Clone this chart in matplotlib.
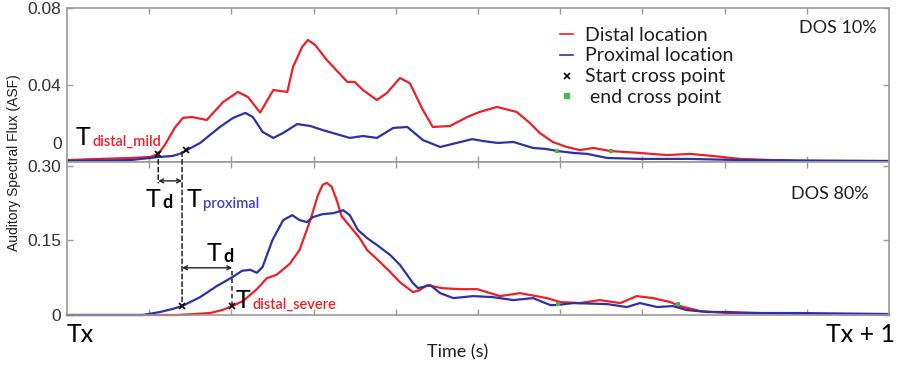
import matplotlib
matplotlib.use("Agg")
import matplotlib.pyplot as plt
from matplotlib.lines import Line2D
from matplotlib.patches import ConnectionPatch

# time axis runs from Tx (0) to Tx + 1 (1)
# DOS 10% panel
top_red_t = [0.000, 0.040, 0.077, 0.101, 0.111, 0.119, 0.131, 0.141, 0.152, 0.170,
             0.190, 0.208, 0.220, 0.235, 0.251, 0.268, 0.275, 0.286, 0.293, 0.302,
             0.316, 0.324, 0.341, 0.350, 0.360, 0.377, 0.389, 0.405, 0.417, 0.433,
             0.445, 0.466, 0.487, 0.502, 0.523, 0.547, 0.563, 0.575, 0.591, 0.608,
             0.624, 0.640, 0.661, 0.697, 0.730, 0.758, 0.786, 0.819, 0.859, 0.900,
             1.000]
top_red = [0.0010, 0.0016, 0.0021, 0.0026, 0.0042, 0.0088, 0.0177, 0.0229, 0.0234, 0.0218,
           0.0312, 0.0364, 0.0338, 0.0257, 0.0374, 0.0364, 0.0494, 0.0597, 0.0634, 0.0608,
           0.0530, 0.0494, 0.0416, 0.0416, 0.0374, 0.0322, 0.0358, 0.0436, 0.0410, 0.0270,
           0.0182, 0.0187, 0.0234, 0.0260, 0.0286, 0.0260, 0.0203, 0.0151, 0.0104, 0.0078,
           0.0062, 0.0073, 0.0057, 0.0047, 0.0036, 0.0042, 0.0031, 0.0016, 0.0010, 0.0005,
           0.0005]

top_blue_t = [0.000, 0.077, 0.101, 0.111, 0.128, 0.137, 0.145, 0.162, 0.186, 0.202,
              0.217, 0.226, 0.238, 0.251, 0.263, 0.280, 0.296, 0.311, 0.344, 0.360,
              0.377, 0.397, 0.414, 0.433, 0.454, 0.474, 0.493, 0.506, 0.524, 0.543,
              0.567, 0.582, 0.597, 0.616, 0.633, 0.657, 0.697, 0.758, 0.819, 1.000]
top_blue = [0.0005, 0.0010, 0.0021, 0.0026, 0.0031, 0.0042, 0.0060, 0.0099, 0.0182, 0.0229,
            0.0255, 0.0234, 0.0156, 0.0125, 0.0151, 0.0197, 0.0187, 0.0166, 0.0125, 0.0135,
            0.0125, 0.0177, 0.0182, 0.0114, 0.0078, 0.0099, 0.0119, 0.0109, 0.0099, 0.0104,
            0.0073, 0.0068, 0.0057, 0.0047, 0.0042, 0.0021, 0.0016, 0.0016, 0.0010, 0.0005]

# DOS 80% panel
bot_red_t = [0.000, 0.134, 0.156, 0.174, 0.189, 0.201, 0.214, 0.231, 0.243, 0.255,
             0.271, 0.283, 0.296, 0.305, 0.311, 0.316, 0.322, 0.328, 0.334, 0.344,
             0.356, 0.365, 0.378, 0.393, 0.405, 0.421, 0.429, 0.438, 0.457, 0.478,
             0.499, 0.527, 0.551, 0.584, 0.600, 0.624, 0.648, 0.673, 0.693, 0.713,
             0.734, 0.746, 0.770, 0.803, 0.839, 0.900, 1.000]
bot_red = [0.000, 0.000, 0.002, 0.004, 0.010, 0.018, 0.028, 0.052, 0.074, 0.081,
           0.103, 0.131, 0.191, 0.240, 0.262, 0.266, 0.258, 0.232, 0.199, 0.179,
           0.155, 0.131, 0.111, 0.087, 0.066, 0.046, 0.050, 0.060, 0.054, 0.052,
           0.052, 0.038, 0.044, 0.034, 0.026, 0.024, 0.030, 0.024, 0.038, 0.034,
           0.026, 0.018, 0.008, 0.004, 0.004, 0.002, 0.000]

bot_blue_t = [0.000, 0.092, 0.113, 0.128, 0.140, 0.162, 0.182, 0.201, 0.213, 0.223,
              0.231, 0.238, 0.250, 0.263, 0.274, 0.283, 0.292, 0.299, 0.311, 0.324,
              0.336, 0.344, 0.354, 0.365, 0.377, 0.393, 0.405, 0.421, 0.427, 0.442,
              0.454, 0.470, 0.494, 0.518, 0.543, 0.567, 0.588, 0.596, 0.616, 0.657,
              0.681, 0.697, 0.718, 0.737, 0.754, 0.779, 0.803, 0.839, 0.888, 1.000]
bot_blue = [0.000, 0.000, 0.006, 0.012, 0.018, 0.036, 0.058, 0.076, 0.089, 0.091,
            0.085, 0.097, 0.151, 0.191, 0.201, 0.191, 0.187, 0.197, 0.203, 0.205,
            0.211, 0.201, 0.171, 0.155, 0.141, 0.121, 0.101, 0.064, 0.054, 0.060,
            0.044, 0.034, 0.038, 0.036, 0.030, 0.034, 0.020, 0.020, 0.024, 0.022,
            0.016, 0.024, 0.016, 0.018, 0.010, 0.006, 0.006, 0.004, 0.004, 0.002]

# start / end cross points
top_start_t = [0.111, 0.145]
top_start = [0.0042, 0.0060]
top_end_t = [0.596, 0.662]
top_end = [0.0057, 0.0057]
bot_start_t = [0.140, 0.201]
bot_start = [0.018, 0.018]
bot_end_t = [0.597, 0.743]
bot_end = [0.022, 0.022]

RED = "#ec2027"
BLUE = "#2e31a6"
GREEN = "#3dbd3d"
GRAY = "#9a9a9a"
TXT = "#1e1e1e"
W, H = 898, 366
ANN = ["Lato", "DejaVu Sans"]
TICKF = ["Liberation Sans", "DejaVu Sans"]


def px(x, y):
    return x / W, 1 - y / H


fig = plt.figure(figsize=(8.98, 3.66), dpi=100)
ax1 = fig.add_axes([67 / W, 1 - 162 / H, 822 / W, 154 / H])
ax2 = fig.add_axes([67 / W, 1 - 315 / H, 822 / W, 153 / H])

for ax in (ax1, ax2):
    ax.set_xlim(0, 1)
    ax.set_xticks([i / 10 for i in range(1, 10)])
    ax.set_xticklabels([])
    ax.tick_params(direction="in", top=True, right=True, length=4, width=1,
                   color=GRAY, labelsize=12.5, labelcolor="#333333", pad=4)
    for s in ax.spines.values():
        s.set_color(GRAY)
        s.set_linewidth(1.2)

ax1.plot(top_red_t, top_red, color=RED, lw=1.6)
ax1.plot(top_blue_t, top_blue, color=BLUE, lw=1.6)
ax1.plot(top_start_t, top_start, "x", color="black", ms=4, mew=1.2)
ax1.plot(top_end_t, top_end, "s", color=GREEN, ms=3.5, mew=0)
ax1.set_ylim(0, 0.08)
ax1.set_yticks([0, 0.04, 0.08])
ax1.set_yticklabels(["", "0.04", "0.08"], family=TICKF)
ax1.text(-0.006, 0.009, "0", transform=ax1.get_yaxis_transform(), ha="right",
         va="center", fontsize=12.5, color="#333333", family=TICKF)

ax2.plot(bot_red_t, bot_red, color=RED, lw=1.6, clip_on=False)
ax2.plot(bot_blue_t, bot_blue, color=BLUE, lw=1.6, clip_on=False)
ax2.plot(bot_start_t, bot_start, "x", color="black", ms=4, mew=1.2)
ax2.plot(bot_end_t, bot_end, "s", color=GREEN, ms=3.5, mew=0)
ax2.set_ylim(0, 0.308)
ax2.set_yticks([0, 0.15, 0.30])
ax2.set_yticklabels(["0", "0.15", "0.30"], family=TICKF)

handles = [Line2D([], [], color=RED, lw=1.2),
           Line2D([], [], color=BLUE, lw=1.2),
           Line2D([], [], ls="", marker="x", color="black", ms=4, mew=1.2),
           Line2D([], [], ls="", marker="s", color=GREEN, ms=4, mew=0)]
labels = ["Distal location", "Proximal location", "Start cross point", " end cross point"]
leg = ax1.legend(handles, labels, loc="upper left", bbox_to_anchor=(0.59, 0.93),
                 frameon=False, handlelength=0.7, handletextpad=0.6, labelspacing=0.2,
                 borderaxespad=0, prop={"family": ANN, "size": 14})
for t in leg.get_texts():
    t.set_color(TXT)

fig.text(*px(877, 33), "DOS 10%", ha="right", va="baseline", fontsize=13,
         color=TXT, family=ANN)
fig.text(*px(869, 199), "DOS 80%", ha="right", va="baseline", fontsize=13,
         color=TXT, family=ANN)

# dashed guide lines and the Td arrows
dash = dict(ls=(0, (3, 2)), color="#222222", lw=1.1)
for xa, ya, yb in [(top_start_t[0], 0.0052, 0.266), (bot_start_t[0], 0.0052, bot_start[0])]:
    fig.add_artist(ConnectionPatch((xa, ya), (xa, yb), coordsA=ax1.transData,
                                   coordsB=ax2.transData, **dash))
ax2.plot([bot_start_t[1]] * 2, [bot_start[1], 0.095], **dash)
ax2.annotate("", xy=(top_start_t[0], 0.270), xytext=(bot_start_t[0], 0.270),
             arrowprops=dict(arrowstyle="<->", color="#222222", lw=1,
                             shrinkA=0, shrinkB=0, mutation_scale=7),
             annotation_clip=False)
ax2.annotate("", xy=(bot_start_t[0], 0.095), xytext=(bot_start_t[1], 0.095),
             arrowprops=dict(arrowstyle="<->", color="#222222", lw=1,
                             shrinkA=0, shrinkB=0, mutation_scale=7))


def t_label(x, y, sub, color, subsize=10.5, weight="semibold"):
    t = fig.text(*px(x, y), "T", fontsize=18, ha="left", va="baseline",
                 color="black", family=ANN)
    ax2.annotate(sub, xy=(1, 0), xycoords=t, xytext=(1, 0), textcoords="offset points",
                 ha="left", va="bottom", fontsize=subsize, color=color,
                 fontweight=weight, family=ANN, annotation_clip=False)


t_label(76, 145, "distal_mild", RED)
t_label(146, 207, "d", "black", subsize=13, weight="bold")
t_label(187, 207, "proximal", "#4343b5")
t_label(207, 261, "d", "black", subsize=13, weight="bold")
t_label(236, 308, "distal_severe", RED)

fig.text(*px(67, 342), "Tx", fontsize=18, ha="left", va="baseline", color="black",
         family=ANN)
fig.text(*px(895, 342), "Tx + 1", fontsize=18, ha="right", va="baseline",
         color="black", family=ANN)
fig.text(*px(458, 357), "Time (s)", fontsize=13, ha="center", va="baseline",
         color=TXT, family=ANN)
fig.text(*px(14, 163), "Auditory Spectral Flux (ASF)", fontsize=10, rotation=90,
         ha="center", va="center", color=TXT, family=TICKF)

fig.savefig("out.png", dpi=100)
